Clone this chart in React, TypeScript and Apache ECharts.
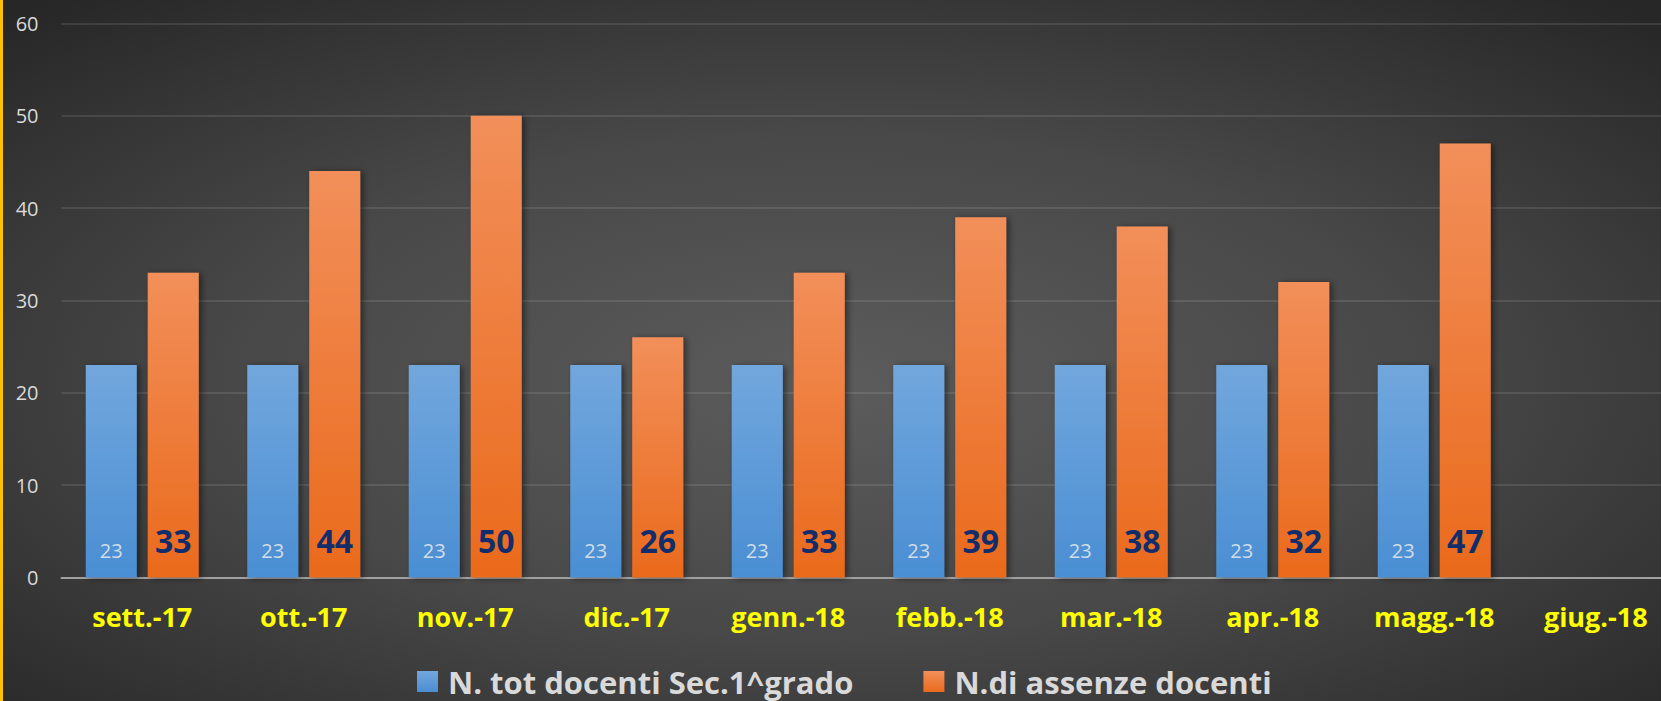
import React, { useEffect, useRef } from "react";
import * as echarts from "echarts";

const categories = ["sett.-17", "ott.-17", "nov.-17", "dic.-17", "genn.-18", "febb.-18", "mar.-18", "apr.-18", "magg.-18", "giug.-18"];
const docenti = [23, 23, 23, 23, 23, 23, 23, 23, 23, null];
const assenze = [33, 44, 50, 26, 33, 39, 38, 32, 47, null];
const seriesNames = ["N. tot docenti Sec.1^grado", "N.di assenze docenti"];

const W = 1661;
const H = 701;
const INNER_W = 1700;
const FONT = "Open Sans";

export default function App() {
  const ref = useRef<HTMLDivElement>(null);
  useEffect(() => {
    if (!ref.current) return;
    const chart = echarts.init(ref.current, null, { renderer: "svg" });
    const blue = new echarts.graphic.LinearGradient(0, 0, 0, 1, [
      { offset: 0, color: "#72a7dd" },
      { offset: 1, color: "#4a8ed3" },
    ]);
    const orange = new echarts.graphic.LinearGradient(0, 0, 0, 1, [
      { offset: 0, color: "#f28f5a" },
      { offset: 1, color: "#ea6a1c" },
    ]);
    const bg = new echarts.graphic.RadialGradient(0.5, 0.55, 0.72, [
      { offset: 0, color: "#5c5c5c" },
      { offset: 0.5, color: "#484848" },
      { offset: 1, color: "#272727" },
    ]);
    const shadow = {
      shadowColor: "rgba(0,0,0,0.45)",
      shadowBlur: 6,
      shadowOffsetX: 3,
      shadowOffsetY: 1,
    };
    chart.setOption({
      animation: false,
      backgroundColor: "#2a2a2a",
      graphic: {
        z: -10,
        elements: [
          {
            type: "rect",
            x: 0,
            y: 0,
            scaleX: W / H,
            z: -10,
            silent: true,
            shape: { x: 0, y: 0, width: H, height: H },
            style: { fill: bg },
          },
          {
            type: "rect",
            x: 0,
            y: 0,
            z: 100,
            silent: true,
            shape: { x: 0, y: 0, width: 3, height: H },
            style: { fill: "#ffc000" },
          },
        ],
      },
      grid: { left: 61.5, width: 1615, top: 23.3, bottom: 123.5, containLabel: false, outerBoundsMode: "none" },
      legend: {
        data: seriesNames,
        left: 417,
        top: 666,
        padding: 0,
        itemWidth: 21,
        itemHeight: 21,
        itemGap: 70,
        icon: "rect",
        textStyle: {
          fontFamily: FONT,
          fontWeight: "bold",
          fontSize: 31,
          color: "#d9d9d9",
          padding: [0, 0, 0, 5],
        },
      },
      xAxis: {
        type: "category",
        data: categories,
        axisTick: { show: false },
        axisLine: { lineStyle: { color: "#a0a0a0", width: 2 } },
        axisLabel: {
          interval: 0,
          margin: 25,
          fontFamily: FONT,
          fontWeight: "bold",
          fontSize: 27,
          color: "#ffff00",
        },
      },
      yAxis: {
        type: "value",
        min: 0,
        max: 60,
        interval: 10,
        axisLine: { show: false },
        axisTick: { show: false },
        axisLabel: { margin: 23, fontFamily: FONT, fontSize: 20, color: "#d9d9d9" },
        splitLine: { lineStyle: { color: "rgba(255,255,255,0.1)", width: 2 } },
      },
      series: [
        {
          name: seriesNames[0],
          type: "bar",
          data: docenti,
          barWidth: 51,
          barGap: "21.5%",
          itemStyle: { color: blue, ...shadow },
          label: {
            show: true,
            position: "insideBottom",
            distance: 17,
            fontFamily: FONT,
            fontSize: 20,
            color: "rgba(235,235,235,0.85)",
          },
        },
        {
          name: seriesNames[1],
          type: "bar",
          data: assenze,
          barWidth: 51,
          itemStyle: { color: orange, ...shadow },
          label: {
            show: true,
            position: "insideBottom",
            distance: 21,
            fontFamily: FONT,
            fontWeight: "bold",
            fontSize: 32,
            color: "#132d6b",
          },
        },
      ],
    });
    return () => chart.dispose();
  }, []);
  return (
    <div style={{ position: "fixed", left: 0, top: 0, width: W, height: H, overflow: "hidden" }}>
      <div ref={ref} style={{ width: INNER_W, height: H }} />
    </div>
  );
}
